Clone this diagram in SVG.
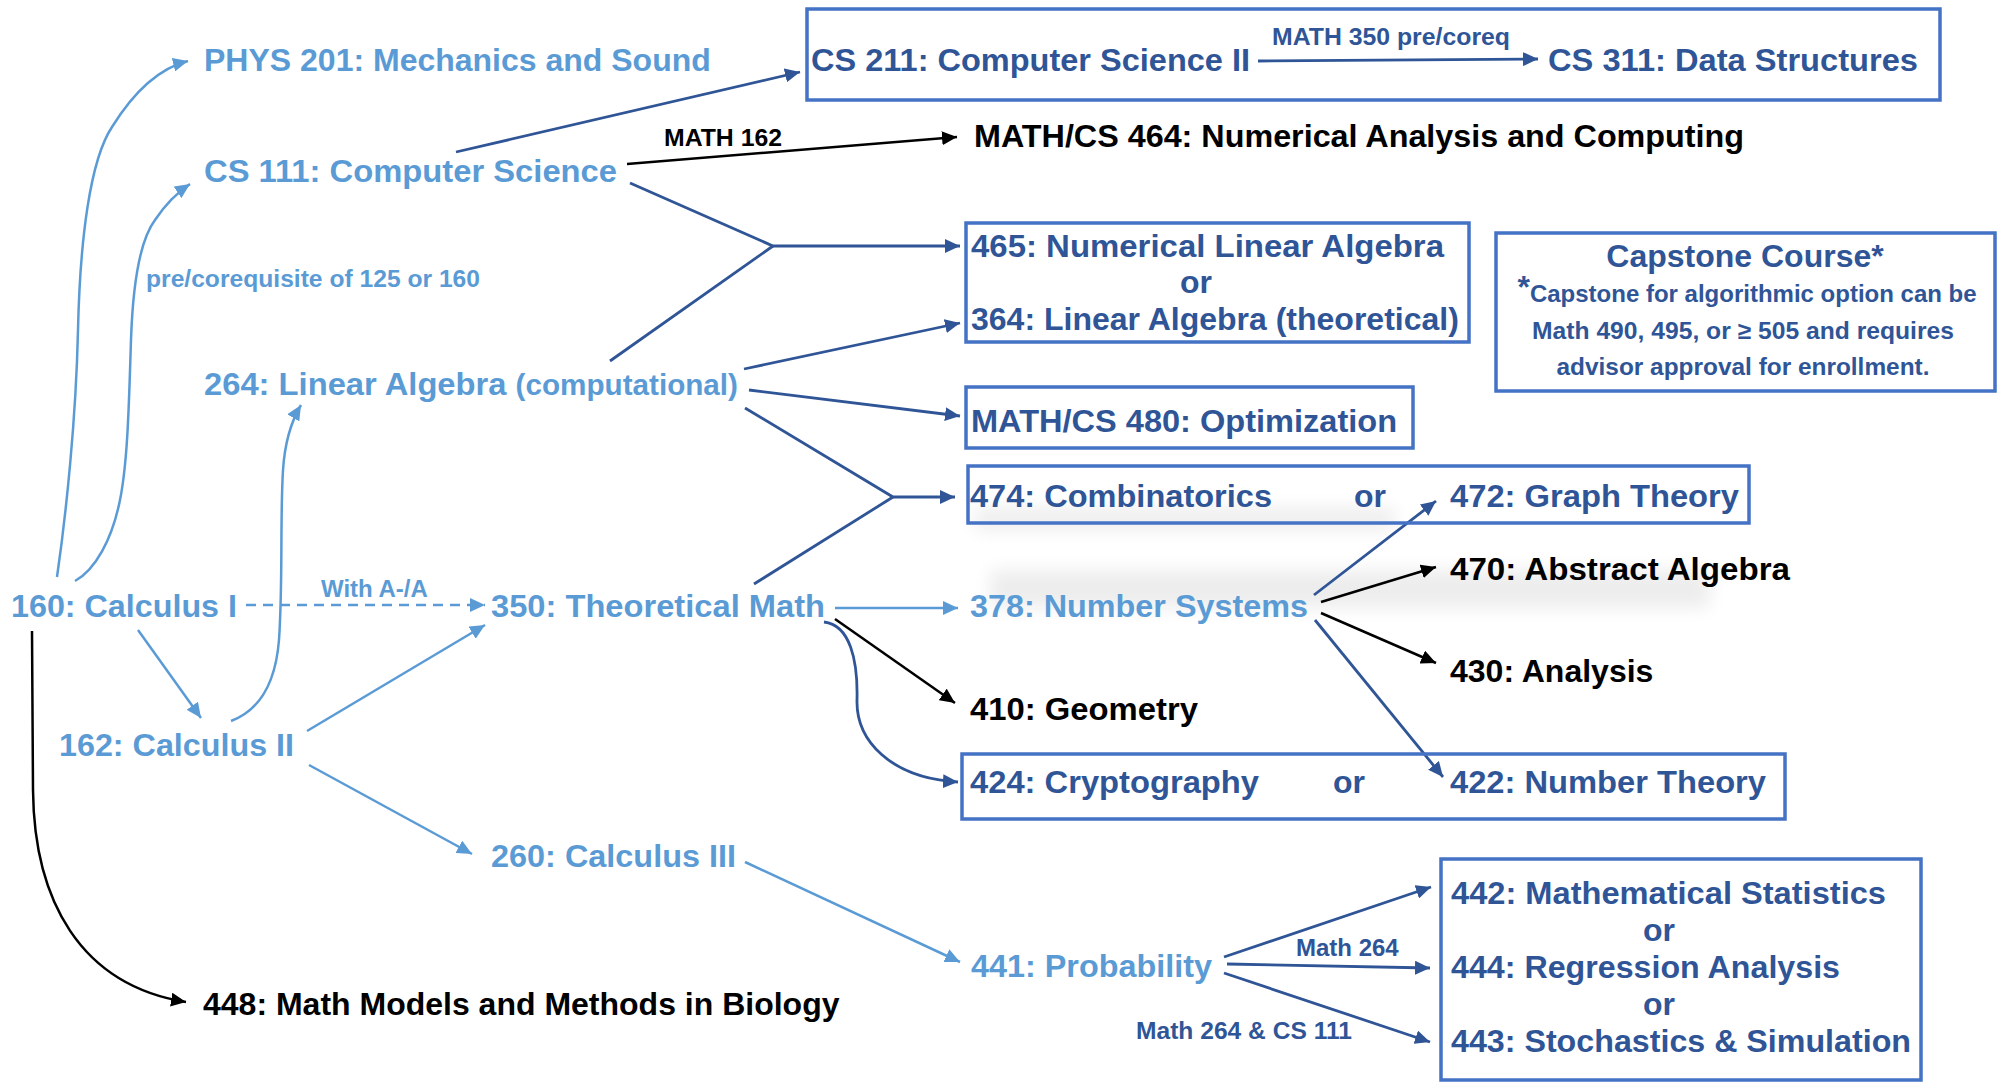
<svg xmlns="http://www.w3.org/2000/svg" width="1998" height="1082" viewBox="0 0 1998 1082">
<style>
text{font-family:"Liberation Sans",Arial,sans-serif;font-weight:bold;font-size:32px}
.lt{fill:#5B9BD5}
.dk{fill:#2F5597}
.bk{fill:#000}
.sm{font-size:24px}
.box{fill:none;stroke:#4472C4;stroke-width:3.5}
.cl{fill:none;stroke:#5B9BD5;stroke-width:2.5}
.cd{fill:none;stroke:#2F5597;stroke-width:2.8}
.cb{fill:none;stroke:#000;stroke-width:2.5}
</style>
<defs>
<marker id="al" markerUnits="userSpaceOnUse" markerWidth="16" markerHeight="14" refX="15" refY="7" orient="auto"><path d="M0,0 L15,7 L0,14 z" fill="#5B9BD5"/></marker>
<marker id="ad" markerUnits="userSpaceOnUse" markerWidth="16" markerHeight="14" refX="15" refY="7" orient="auto"><path d="M0,0 L15,7 L0,14 z" fill="#2F5597"/></marker>
<marker id="ab" markerUnits="userSpaceOnUse" markerWidth="16" markerHeight="14" refX="15" refY="7" orient="auto"><path d="M0,0 L15,7 L0,14 z" fill="#000"/></marker>
<filter id="sh" x="-20%" y="-100%" width="140%" height="300%"><feGaussianBlur stdDeviation="9"/></filter>
</defs>
<rect width="1998" height="1082" fill="#fff"/>
<g id="shadows" opacity="0.07" filter="url(#sh)">
<rect x="975" y="508" width="420" height="22" fill="#000"/>
<rect x="990" y="570" width="720" height="38" fill="#000"/>
</g>
<g id="connectors">
<path class="cl" d="M57,577 C66,515 76,420 78,330 C80,240 90,160 112,127 C135,90 160,68 188,61" marker-end="url(#al)"/>
<path class="cl" d="M75,581 C95,570 112,540 120,500 C128,460 129,400 131,340 C133,280 140,240 155,220 C165,205 178,192 190,184" marker-end="url(#al)"/>
<path class="cl" d="M231,721 C255,712 275,690 279,640 C283,580 280,520 283,470 C285,440 292,420 301,405" marker-end="url(#al)"/>
<path class="cl" d="M138,630 L201,718" marker-end="url(#al)"/>
<path class="cl" d="M246,605 L485,605" stroke-dasharray="10,7" marker-end="url(#al)"/>
<path class="cl" d="M307,731 L485,625" marker-end="url(#al)"/>
<path class="cl" d="M309,765 L472,854" marker-end="url(#al)"/>
<path class="cl" d="M745,862 L960,962" marker-end="url(#al)"/>
<path class="cb" d="M32,631 L33,790 C34,900 80,985 186,1002" marker-end="url(#ab)"/>
<path class="cd" d="M456,152 L800,72" marker-end="url(#ad)"/>
<path class="cd" d="M1258,61 L1538,59" marker-end="url(#ad)"/>
<path class="cb" d="M627,164 L957,137" marker-end="url(#ab)"/>
<path class="cd" d="M630,183 L773,246 L960,246" marker-end="url(#ad)"/>
<path class="cd" d="M610,361 L773,246"/>
<path class="cd" d="M744,369 L960,323" marker-end="url(#ad)"/>
<path class="cd" d="M749,390 L960,416" marker-end="url(#ad)"/>
<path class="cd" d="M745,408 L893,497 L955,497" marker-end="url(#ad)"/>
<path class="cd" d="M754,584 L893,497"/>
<path class="cl" d="M835,608 L958,608" marker-end="url(#al)"/>
<path class="cb" d="M835,619 L955,703" marker-end="url(#ab)"/>
<path class="cd" d="M824,622 C850,625 858,660 857,700 C856,740 890,778 958,782" marker-end="url(#ad)"/>
<path class="cd" d="M1314,595 L1436,501" stroke-width="2.2" marker-end="url(#ad)"/>
<path class="cb" d="M1321,602 L1436,567" marker-end="url(#ab)"/>
<path class="cb" d="M1321,613 L1436,663" marker-end="url(#ab)"/>
<path class="cd" d="M1315,620 L1443,777" stroke-width="2.2" marker-end="url(#ad)"/>
<path class="cd" d="M1224,957 L1431,887" marker-end="url(#ad)"/>
<path class="cd" d="M1227,964 L1430,968" marker-end="url(#ad)"/>
<path class="cd" d="M1224,973 L1430,1042" marker-end="url(#ad)"/>
</g>
<g id="labels">
<text class="lt sm" x="146" y="287" textLength="334" lengthAdjust="spacingAndGlyphs">pre/corequisite of 125 or 160</text>
<text class="lt sm" x="321" y="597">With A-/A</text>
<text class="dk sm" x="1272" y="45" textLength="238" lengthAdjust="spacingAndGlyphs">MATH 350 pre/coreq</text>
<text class="bk sm" x="664" y="146" textLength="118" lengthAdjust="spacingAndGlyphs">MATH 162</text>
<text class="dk sm" x="1296" y="956">Math 264</text>
<text class="dk sm" x="1136" y="1039" textLength="216" lengthAdjust="spacingAndGlyphs">Math 264 &amp; CS 111</text>
</g>
<g id="phys201"><text class="lt" x="204" y="71">PHYS 201: Mechanics and Sound</text></g>
<g id="cs111"><text class="lt" x="204" y="182" textLength="413" lengthAdjust="spacingAndGlyphs">CS 111: Computer Science</text></g>
<g id="m264"><text class="lt" x="204" y="395" textLength="534" lengthAdjust="spacingAndGlyphs">264: Linear Algebra <tspan font-size="29">(computational)</tspan></text></g>
<g id="m160"><text class="lt" x="11" y="617" textLength="226" lengthAdjust="spacingAndGlyphs">160: Calculus I</text></g>
<g id="m350"><text class="lt" x="491" y="617" textLength="334" lengthAdjust="spacingAndGlyphs">350: Theoretical Math</text></g>
<g id="m162"><text class="lt" x="59" y="756" textLength="235" lengthAdjust="spacingAndGlyphs">162: Calculus II</text></g>
<g id="m260"><text class="lt" x="491" y="867" textLength="245" lengthAdjust="spacingAndGlyphs">260: Calculus III</text></g>
<g id="m448"><text class="bk" x="203" y="1015">448: Math Models and Methods in Biology</text></g>
<g id="m441"><text class="lt" x="971" y="977" textLength="241" lengthAdjust="spacingAndGlyphs">441: Probability</text></g>
<g id="cs211box"><rect class="box" x="807" y="9" width="1133" height="91"/>
<text class="dk" x="811" y="71" textLength="439" lengthAdjust="spacingAndGlyphs">CS 211: Computer Science II</text>
<text class="dk" x="1548" y="71" textLength="370" lengthAdjust="spacingAndGlyphs">CS 311: Data Structures</text></g>
<g id="m464"><text class="bk" x="974" y="147" textLength="770" lengthAdjust="spacingAndGlyphs">MATH/CS 464: Numerical Analysis and Computing</text></g>
<g id="m465box"><rect class="box" x="966" y="223" width="503" height="119"/>
<text class="dk" x="971" y="257" textLength="473" lengthAdjust="spacingAndGlyphs">465: Numerical Linear Algebra</text>
<text class="dk" x="1196" y="293" text-anchor="middle">or</text>
<text class="dk" x="971" y="330">364: Linear Algebra (theoretical)</text></g>
<g id="capstone"><rect class="box" x="1496" y="233" width="499" height="158"/>
<text class="dk" x="1745" y="267" text-anchor="middle">Capstone Course*</text>
<text class="dk sm" x="1747" y="302" text-anchor="middle"><tspan font-size="32" dy="-4">*</tspan><tspan dy="4">Capstone for algorithmic option can be</tspan></text>
<text class="dk sm" x="1743" y="339" text-anchor="middle" textLength="422" lengthAdjust="spacingAndGlyphs">Math 490, 495, or ≥ 505 and requires</text>
<text class="dk sm" x="1743" y="375" text-anchor="middle" textLength="373" lengthAdjust="spacingAndGlyphs">advisor approval for enrollment.</text></g>
<g id="m480box"><rect class="box" x="966" y="387" width="447" height="61"/>
<text class="dk" x="971" y="432" textLength="426" lengthAdjust="spacingAndGlyphs">MATH/CS 480: Optimization</text></g>
<g id="m474box"><rect class="box" x="968" y="466" width="781" height="57"/>
<text class="dk" x="970" y="507" textLength="302" lengthAdjust="spacingAndGlyphs">474: Combinatorics</text>
<text class="dk" x="1354" y="507">or</text>
<text class="dk" x="1450" y="507" textLength="289" lengthAdjust="spacingAndGlyphs">472: Graph Theory</text></g>
<g id="m378"><text class="lt" x="970" y="617" textLength="338" lengthAdjust="spacingAndGlyphs">378: Number Systems</text></g>
<g id="m470"><text class="bk" x="1450" y="580" textLength="340" lengthAdjust="spacingAndGlyphs">470: Abstract Algebra</text></g>
<g id="m430"><text class="bk" x="1450" y="682">430: Analysis</text></g>
<g id="m410"><text class="bk" x="970" y="720" textLength="228" lengthAdjust="spacingAndGlyphs">410: Geometry</text></g>
<g id="m424box"><rect class="box" x="962" y="754" width="823" height="65"/>
<text class="dk" x="970" y="793" textLength="289" lengthAdjust="spacingAndGlyphs">424: Cryptography</text>
<text class="dk" x="1333" y="793">or</text>
<text class="dk" x="1450" y="793" textLength="316" lengthAdjust="spacingAndGlyphs">422: Number Theory</text></g>
<g id="m442box"><rect class="box" x="1441" y="859" width="480" height="221"/>
<text class="dk" x="1451" y="904" textLength="435" lengthAdjust="spacingAndGlyphs">442: Mathematical Statistics</text>
<text class="dk" x="1659" y="941" text-anchor="middle">or</text>
<text class="dk" x="1451" y="978" textLength="389" lengthAdjust="spacingAndGlyphs">444: Regression Analysis</text>
<text class="dk" x="1659" y="1015" text-anchor="middle">or</text>
<text class="dk" x="1451" y="1052" textLength="460" lengthAdjust="spacingAndGlyphs">443: Stochastics &amp; Simulation</text></g>
</svg>
